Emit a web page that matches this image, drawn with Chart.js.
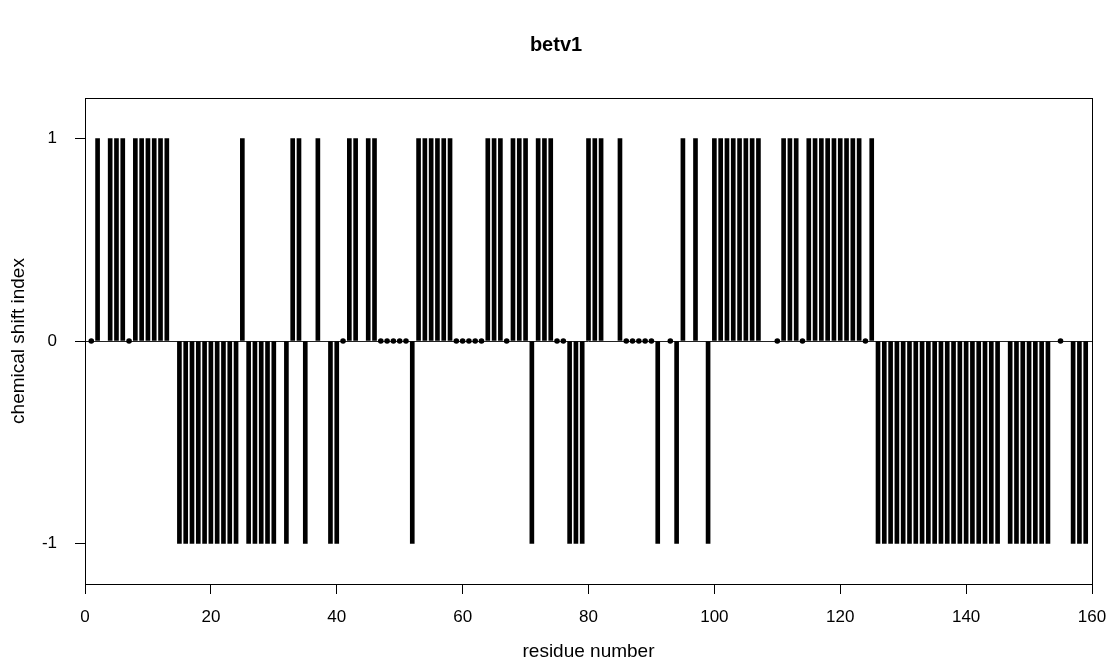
<!DOCTYPE html>
<html>
<head>
<meta charset="utf-8">
<title>betv1</title>
<script src="https://cdn.jsdelivr.net/npm/chart.js@4/dist/chart.umd.min.js"></script>
<style>
  html, body { margin: 0; padding: 0; background: #fff; }
  #wrap { width: 1112px; height: 667px; }
</style>
</head>
<body>
<div id="wrap"><canvas id="chart" width="1112" height="667"></canvas></div>
<script>
'use strict';

// chemical shift index per residue, rows of ten (null = not assigned)
const csiRows = [
  [0, 1, null, 1, 1, 1, 0, 1, 1, 1],            // 1-10
  [1, 1, 1, null, -1, -1, -1, -1, -1, -1],      // 11-20
  [-1, -1, -1, -1, 1, -1, -1, -1, -1, -1],      // 21-30
  [null, -1, 1, 1, -1, null, 1, null, -1, -1],  // 31-40
  [0, 1, 1, null, 1, 1, 0, 0, 0, 0],            // 41-50
  [0, -1, 1, 1, 1, 1, 1, 1, 0, 0],              // 51-60
  [0, 0, 0, 1, 1, 1, 0, 1, 1, 1],               // 61-70
  [-1, 1, 1, 1, 0, 0, -1, -1, -1, 1],           // 71-80
  [1, 1, null, null, 1, 0, 0, 0, 0, 0],         // 81-90
  [-1, null, 0, -1, 1, null, 1, null, -1, 1],   // 91-100
  [1, 1, 1, 1, 1, 1, 1, null, null, 0],         // 101-110
  [1, 1, 1, 0, 1, 1, 1, 1, 1, 1],               // 111-120
  [1, 1, 1, 0, 1, -1, -1, -1, -1, -1],          // 121-130
  [-1, -1, -1, -1, -1, -1, -1, -1, -1, -1],     // 131-140
  [-1, -1, -1, -1, -1, null, -1, -1, -1, -1],   // 141-150
  [-1, -1, -1, null, 0, null, -1, -1, -1, null] // 151-160
];
const xTicks = [0, 20, 40, 60, 80, 100, 120, 140, 160];
const yTicks = [-1, 0, 1];

const csi = csiRows.flat();
const residues = csi.map((v, i) => i + 1);

const barPoints = [];
const zeroPoints = [];
residues.forEach((r, i) => {
  if (csi[i] === null) return;
  if (csi[i] === 0) zeroPoints.push({ x: r, y: 0 });
  else barPoints.push({ x: r, y: csi[i] });
});

const FONT = 'Liberation Sans, Arial, Helvetica, sans-serif';

// full box around the plot area
const frame = {
  id: 'frame',
  afterDatasetsDraw(chart) {
    const a = chart.chartArea;
    const ctx = chart.ctx;
    ctx.save();
    ctx.strokeStyle = '#000';
    ctx.lineWidth = 1;
    ctx.strokeRect(Math.round(a.left) + 0.5, Math.round(a.top) + 0.5,
      Math.round(a.right - a.left), Math.round(a.bottom - a.top));
    ctx.restore();
  }
};

new Chart(document.getElementById('chart'), {
  type: 'bar',
  data: {
    datasets: [{
      data: barPoints,
      backgroundColor: '#000',
      borderWidth: 0,
      barThickness: 4
    }, {
      type: 'line',
      data: zeroPoints,
      showLine: false,
      pointRadius: 2.8,
      pointStyle: 'circle',
      pointBackgroundColor: '#000',
      pointBorderWidth: 0
    }]
  },
  options: {
    responsive: false,
    animation: false,
    layout: { padding: 0 },
    plugins: {
      legend: { display: false },
      tooltip: { enabled: false },
      title: {
        display: true,
        text: 'betv1',
        color: '#000',
        font: { family: FONT, size: 20, weight: 'bold' },
        padding: { top: 33, bottom: 41 }
      }
    },
    scales: {
      x: {
        type: 'linear',
        min: 0,
        max: 160,
        offset: false,
        afterBuildTicks: (s) => { s.ticks = xTicks.map(v => ({ value: v })); },
        afterFit: (s) => { s.height = 83; s.paddingLeft = 0; s.paddingRight = 0; },
        border: { display: false },
        grid: { offset: false, drawOnChartArea: false, tickLength: 10, tickColor: '#000' },
        ticks: { color: '#000', padding: 13, maxRotation: 0, font: { family: FONT, size: 17 } },
        title: {
          display: true,
          text: 'residue number',
          color: '#000',
          font: { family: FONT, size: 19 },
          padding: { top: 2, bottom: 4 }
        }
      },
      y: {
        min: -1.2,
        max: 1.2,
        afterBuildTicks: (s) => { s.ticks = yTicks.map(v => ({ value: v })); },
        afterFit: (s) => { s.width = 85; },
        border: { display: false },
        grid: {
          tickLength: 10,
          tickColor: '#000',
          color: (c) => (c.tick && c.tick.value === 0 ? '#222' : 'rgba(0,0,0,0)')
        },
        ticks: { color: '#000', padding: 18, font: { family: FONT, size: 17 } },
        title: {
          display: true,
          text: 'chemical shift index',
          color: '#000',
          font: { family: FONT, size: 19 },
          padding: { top: 7, bottom: 0 }
        }
      },
      // empty right-hand strip so the plot box ends where the reference does
      yRight: {
        position: 'right',
        min: -1.2,
        max: 1.2,
        afterFit: (s) => { s.width = 20; },
        border: { display: false },
        grid: { display: false },
        ticks: { display: false }
      }
    }
  },
  plugins: [frame]
});
</script>
</body>
</html>
